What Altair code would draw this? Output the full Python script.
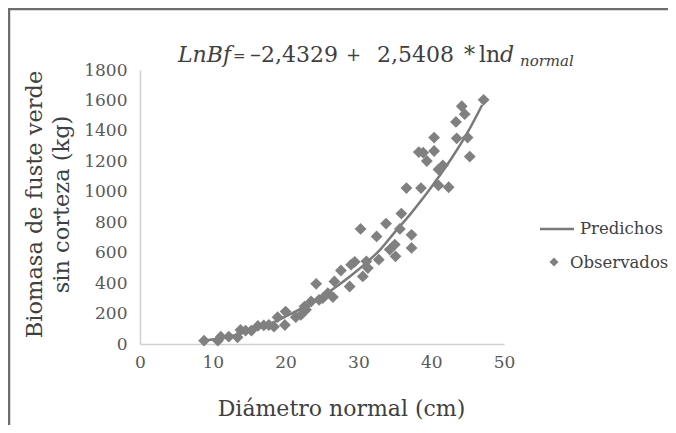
import altair as alt
import pandas as pd

diam_obs = [8.8, 10.7, 11.1, 12.2, 13.4, 13.8, 14.5, 15.3, 16.2, 17.0, 17.7, 18.4, 18.9, 19.9,
            20.0, 21.4, 22.1, 22.6, 22.8, 23.5, 24.2, 24.6, 25.1, 25.8, 26.5, 26.7, 27.6, 28.8,
            29.0, 29.5, 30.3, 30.6, 31.1, 31.3, 32.5, 32.8, 33.8, 34.3, 35.0, 35.1, 35.7, 35.9,
            36.6, 37.3, 37.3, 38.3, 38.6, 38.9, 39.4, 40.4, 40.4, 41.0, 41.0, 41.6, 42.4, 43.4,
            43.5, 44.2, 44.6, 45.0, 45.3, 47.2]
biom_obs = [22, 22, 48, 48, 44, 92, 88, 88, 119, 122, 125, 114, 176, 125,
            213, 176, 191, 246, 225, 279, 395, 290, 301, 334, 308, 411, 483, 378,
            521, 540, 756, 444, 543, 499, 707, 554, 791, 620, 653, 576, 756, 857,
            1024, 717, 631, 1261, 1024, 1257, 1202, 1356, 1268, 1147, 1042, 1173, 1030, 1459,
            1351, 1562, 1510, 1356, 1231, 1604]

# Predicted curve
diam_pred = [9, 11, 13, 15, 17, 19, 21, 23, 25, 27, 29, 31, 33, 35, 37, 39, 41, 43, 45, 47]
biom_pred = [23, 38, 58, 85, 117, 157, 205, 255, 312, 378, 450, 530, 620, 735, 845, 965,
             1095, 1235, 1390, 1570]

x_ticks = [0, 10, 20, 30, 40, 50]
y_ticks = [0, 200, 400, 600, 800, 1000, 1200, 1400, 1600, 1800]

title_tokens = ["LnBf", "=", "\u20132,4329", "+", "2,5408", "*", "ln", "d", "normal"]
legend_labels = ["Predichos", "Observados"]
x_title = "Diámetro normal (cm)"
y_title = ["Biomasa de fuste verde", "sin corteza (kg)"]

obs = pd.DataFrame({"d": diam_obs, "b": biom_obs})
pred = pd.DataFrame({"d": diam_pred, "b": biom_pred})

FONT = "DejaVu Serif"
W, H = 364, 274
OX, OY = 140, 70  # page position of plot origin

def px(x):
    return x - OX

def py(y):
    return y - OY

xs = alt.Scale(domain=[0, 50], nice=False, zero=False)
ys = alt.Scale(domain=[0, 1800], nice=False)

x_axis = alt.Axis(values=x_ticks, title=x_title, grid=False, ticks=False, tickSize=0,
                  labelFlush=False, labelOverlap=False, labelPadding=10, format="d",
                  labelFont=FONT, labelFontSize=17, labelColor="#595959",
                  domainColor="#d0d0d0", domainWidth=1.5,
                  titleFont=FONT, titleFontSize=22, titleFontWeight="normal", titleColor="#404040",
                  titleX=px(341), titleY=415 - 344, titleBaseline="alphabetic", titleAlign="center")
y_axis = alt.Axis(values=y_ticks, title=y_title, grid=False, ticks=False, tickSize=0,
                  labelFlush=False, labelOverlap=False, labelPadding=13, format="d",
                  labelFont=FONT, labelFontSize=17, labelColor="#595959",
                  domainColor="#d0d0d0", domainWidth=1.5,
                  titleFont=FONT, titleFontSize=22.5, titleFontWeight="normal", titleColor="#404040",
                  titleAngle=270, titleX=px(34), titleY=H / 2 - 3, titleAlign="center",
                  titleBaseline="middle", titleLineHeight=27)

line = alt.Chart(pred).mark_line(color="#7a7a7a", strokeWidth=2.5, interpolate="monotone").encode(
    x=alt.X("d:Q", scale=xs, axis=x_axis),
    y=alt.Y("b:Q", scale=ys, axis=y_axis),
)
points = alt.Chart(obs).mark_point(shape="diamond", filled=True, size=140, color="#808080",
                                   opacity=1).encode(
    x=alt.X("d:Q", scale=xs, axis=x_axis),
    y=alt.Y("b:Q", scale=ys, axis=y_axis),
)

def txt(s, x, y, size, style="normal", color="#404040", align="left"):
    return alt.Chart(pd.DataFrame({"t": [s]})).mark_text(
        font=FONT, fontSize=size, fontStyle=style, color=color, align=align,
        baseline="alphabetic").encode(text="t:N", x=alt.value(x), y=alt.value(y))

title_x = [178, 233, 250, 346, 377, 464, 479, 500, 520]
title_size = [22, 15, 22, 18, 22, 22, 22, 22, 15]
title_layers = []
for i, tok in enumerate(title_tokens):
    italic = i in (0, 7, 8)
    base = 66 if i == 8 else (61 if i in (1, 3) else 62)
    title_layers.append(txt(tok, px(title_x[i]), py(base), title_size[i],
                            "italic" if italic else "normal"))

one = pd.DataFrame({"k": [0]})
leg_line = alt.Chart(one).mark_rule(color="#7a7a7a", strokeWidth=2.5).encode(
    x=alt.value(px(540)), x2=alt.value(px(574)), y=alt.value(py(229)))
leg_pt = alt.Chart(one).mark_point(shape="diamond", filled=True, size=80, color="#808080",
                                   opacity=1).encode(x=alt.value(px(554)), y=alt.value(py(262)))
legend_layers = [
    leg_line,
    txt(legend_labels[0], px(580), py(234), 16.5),
    leg_pt,
    txt(legend_labels[1], px(570), py(268), 16.5),
]

frame_left = alt.Chart(one).mark_rule(color="#6d6d6d", strokeWidth=2.5).encode(
    x=alt.value(px(9)), y=alt.value(py(8)), y2=alt.value(py(425)))
frame_top = alt.Chart(one).mark_rule(color="#6d6d6d", strokeWidth=2.5).encode(
    x=alt.value(px(8)), x2=alt.value(px(668)), y=alt.value(py(9)))

chart = alt.layer(line, points, *title_layers, *legend_layers, frame_left, frame_top).properties(
    width=W, height=H,
    padding={"left": OX - 8, "top": OY - 8, "right": 660 - (OX - 8) - W, "bottom": 417 - (OY - 8) - H},
    autosize=alt.AutoSizeParams(type="none"),
    background="white",
).configure_view(stroke=None)

chart.save("out.html", embed_options={"renderer": "svg", "actions": False})
